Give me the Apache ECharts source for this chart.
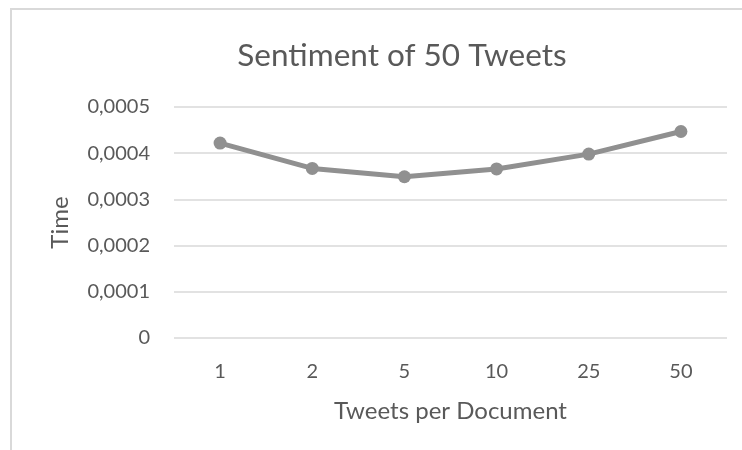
<!DOCTYPE html>
<html>
<head>
<meta charset="utf-8">
<script src="https://cdn.jsdelivr.net/npm/echarts@6/dist/echarts.min.js"></script>
<style>
  html, body { margin: 0; padding: 0; background: #fff; }
  #chart { width: 742px; height: 450px; }
</style>
</head>
<body>
<div id="chart"></div>
<script>
// Tweets per document (category axis)
const categories = ['1', '2', '5', '10', '25', '50'];
// Sentiment processing time
const timeValues = [0.000422, 0.000367, 0.000349, 0.000366, 0.000398, 0.000447];
// Value axis range
const yMin = 0;
const yMax = 0.0005;
const yStep = 0.0001;

const textColor = '#595959';
const fontFamily = 'Lato, "Open Sans", sans-serif';

const chart = echarts.init(document.getElementById('chart'), null, { renderer: 'canvas' });

chart.setOption({
  backgroundColor: '#ffffff',
  animation: false,
  title: {
    text: 'Sentiment of 50 Tweets',
    left: 397,
    textAlign: 'center',
    top: 35,
    textStyle: { color: textColor, fontFamily, fontSize: 31.5, fontWeight: 'normal' }
  },
  graphic: [
    {
      type: 'polyline',
      shape: { points: [[11, 450], [11, 9], [742, 9]] },
      style: { stroke: '#d9d9d9', lineWidth: 2, fill: null },
      silent: true
    }
  ],
  grid: { left: 174, right: 15, top: 107, bottom: 112 },
  xAxis: {
    type: 'category',
    data: categories,
    boundaryGap: true,
    name: 'Tweets per Document',
    nameLocation: 'middle',
    nameGap: 61,
    nameTextStyle: { color: textColor, fontFamily, fontSize: 24 },
    axisLine: { show: false },
    axisTick: { show: false },
    axisLabel: { color: textColor, fontFamily, fontSize: 20, margin: 24 }
  },
  yAxis: {
    type: 'value',
    min: yMin,
    max: yMax,
    interval: yStep,
    name: 'Time',
    nameLocation: 'middle',
    nameGap: 102,
    nameTextStyle: { color: textColor, fontFamily, fontSize: 24 },
    axisLine: { show: false },
    axisTick: { show: false },
    axisLabel: {
      color: textColor,
      fontFamily,
      fontSize: 20,
      margin: 24,
      formatter: v => (v === 0 ? '0' : v.toFixed(4).replace('.', ','))
    },
    splitLine: { lineStyle: { color: '#d9d9d9', width: 1.5 } }
  },
  series: [
    {
      type: 'line',
      data: timeValues,
      symbol: 'circle',
      symbolSize: 13,
      lineStyle: { color: '#909090', width: 5 },
      itemStyle: { color: '#909090' }
    }
  ]
});
</script>
</body>
</html>
